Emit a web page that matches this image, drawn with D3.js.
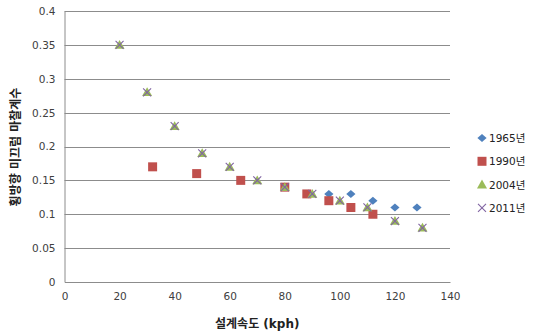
<!DOCTYPE html>
<html>
<head>
<meta charset="utf-8">
<script src="https://cdn.jsdelivr.net/npm/d3@7"></script>
<style>
  body { margin: 0; background: #fff; }
  text { font-family: "DejaVu Sans", Verdana, sans-serif; }
  .kr { font-family: "DejaVu Sans", "Noto Sans CJK KR", sans-serif; }
</style>
</head>
<body>
<div id="chart"></div>
<script>
// data
var speeds1965 = [96, 104, 112, 120, 128];
var coef1965   = [0.13, 0.13, 0.12, 0.11, 0.11];

var speeds1990 = [32, 48, 64, 80, 88, 96, 104, 112];
var coef1990   = [0.17, 0.16, 0.15, 0.14, 0.13, 0.12, 0.11, 0.10];

var speeds2004 = [20, 30, 40, 50, 60, 70, 80, 90, 100, 110, 120, 130];
var coef2004   = [0.35, 0.28, 0.23, 0.19, 0.17, 0.15, 0.14, 0.13, 0.12, 0.11, 0.09, 0.08];

var speeds2011 = [20, 30, 40, 50, 60, 70, 80, 90, 100, 110, 120, 130];
var coef2011   = [0.35, 0.28, 0.23, 0.19, 0.17, 0.15, 0.14, 0.13, 0.12, 0.11, 0.09, 0.08];

var seriesNames = ["1965년", "1990년", "2004년", "2011년"];
var xTicks = [0, 20, 40, 60, 80, 100, 120, 140];
var yTicks = [0, 0.05, 0.1, 0.15, 0.2, 0.25, 0.3, 0.35, 0.4];

var margin = {top: 11, right: 91, bottom: 51, left: 64.5},
    width = 541 - margin.left - margin.right,
    height = 333 - margin.top - margin.bottom;

var svg = d3.select("#chart")
  .append("svg")
    .attr("width", 541)
    .attr("height", 333);

var g = svg.append("g")
    .attr("transform", "translate(" + margin.left + "," + margin.top + ")");

var x = d3.scaleLinear().domain([0, 140]).range([0, width]);
var y = d3.scaleLinear().domain([0, 0.4]).range([height, 0]);

// gridlines
g.append("g")
  .selectAll("line")
  .data(yTicks.filter(function(d){ return d > 0; }))
  .enter()
  .append("line")
    .attr("x1", 0)
    .attr("x2", width)
    .attr("y1", function(d){ return Math.round(y(d)) + 0.5; })
    .attr("y2", function(d){ return Math.round(y(d)) + 0.5; })
    .style("stroke", "#8c8c8c")
    .style("stroke-width", 1);

// axes
var yAxis = g.append("g")
  .call(d3.axisLeft(y).tickValues(yTicks).tickSize(0).tickPadding(9)
    .tickFormat(function(d){ return d3.format("")(+d.toFixed(2)); }));
var xAxis = g.append("g")
  .attr("transform", "translate(0," + height + ")")
  .call(d3.axisBottom(x).tickValues(xTicks).tickSize(0).tickPadding(11));

[xAxis, yAxis].forEach(function(a){
  a.select(".domain").style("stroke", "#8c8c8c");
  a.selectAll("text").style("font-size", "10.5px").style("fill", "#404040")
    .style("font-family", "\"DejaVu Sans\", Verdana, sans-serif");
});

// markers
var colors = ["#4f81bd", "#c0504d", "#9bbb59", "#8064a2"];
var shapes = [
  "M0,-4L4.6,0L0,4L-4.6,0Z",
  "M-4.5,-4.5L4.5,-4.5L4.5,4.5L-4.5,4.5Z",
  "M0,-5L5,3.8L-5,3.8Z",
  "M-4,-4L4,4M-4,4L4,-4"
];

function drawMark(sel, i) {
  var p = sel.append("path").attr("d", shapes[i]);
  if (i === 3) {
    p.style("stroke", colors[3]).style("stroke-width", 1.1).style("fill", "none");
  } else {
    p.style("fill", colors[i]);
  }
}

var allSeries = [
  d3.zip(speeds1965, coef1965),
  d3.zip(speeds1990, coef1990),
  d3.zip(speeds2004, coef2004),
  d3.zip(speeds2011, coef2011)
];

allSeries.forEach(function(pts, i){
  g.append("g")
    .selectAll("g")
    .data(pts)
    .enter()
    .append("g")
      .attr("transform", function(d){ return "translate(" + x(d[0]) + "," + y(d[1]) + ")"; })
      .each(function(){ drawMark(d3.select(this), i); });
});

// legend
var legend = svg.append("g").attr("transform", "translate(482,138)");
seriesNames.forEach(function(name, i){
  var row = legend.append("g").attr("transform", "translate(0," + (i * 23.3) + ")");
  drawMark(row, i);
  row.append("text")
    .text(name)
    .classed("kr", true)
    .attr("x", 7)
    .attr("y", 4)
    .style("font-size", "10.5px")
    .style("fill", "#222");
});

// axis titles
svg.append("text")
  .text("설계속도 (kph)")
  .classed("kr", true)
  .attr("text-anchor", "middle")
  .attr("x", margin.left + width / 2)
  .attr("y", 328)
  .style("font-size", "12px")
  .style("font-weight", "bold")
  .style("fill", "#222");

svg.append("g")
  .attr("transform", "translate(20,147)")
  .append("text")
  .text("횡방향 미끄럼 마찰계수")
  .classed("kr", true)
  .attr("text-anchor", "middle")
  .attr("transform", "rotate(-90)")
  .style("font-size", "12px")
  .style("font-weight", "bold")
  .style("fill", "#222");
</script>
</body>
</html>
